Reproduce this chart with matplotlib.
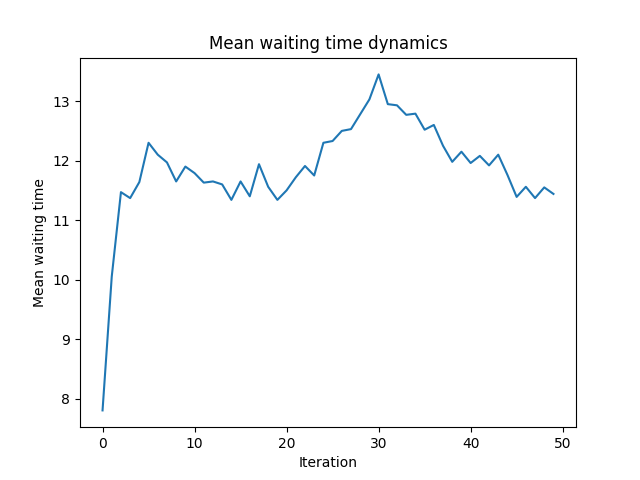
import matplotlib
matplotlib.use('Agg')
import matplotlib.pyplot as plt

iterations = list(range(50))
mean_wait = [7.8, 10.05, 11.47, 11.37, 11.64, 12.30, 12.1, 11.97, 11.65, 11.9,
             11.79, 11.63, 11.65, 11.6, 11.34, 11.65, 11.4, 11.94, 11.56, 11.34,
             11.5, 11.72, 11.91, 11.75, 12.3, 12.33, 12.5, 12.53, 12.78, 13.03,
             13.45, 12.95, 12.93, 12.77, 12.79, 12.52, 12.6, 12.25, 11.98, 12.15,
             11.96, 12.08, 11.92, 12.1, 11.76, 11.39, 11.56, 11.37, 11.55, 11.44]

fig, ax = plt.subplots(figsize=(6.4, 4.8), dpi=100)
ax.plot(iterations, mean_wait)
ax.set_title('Mean waiting time dynamics')
ax.set_xlabel('Iteration')
ax.set_ylabel('Mean waiting time')
plt.savefig('out.png')
